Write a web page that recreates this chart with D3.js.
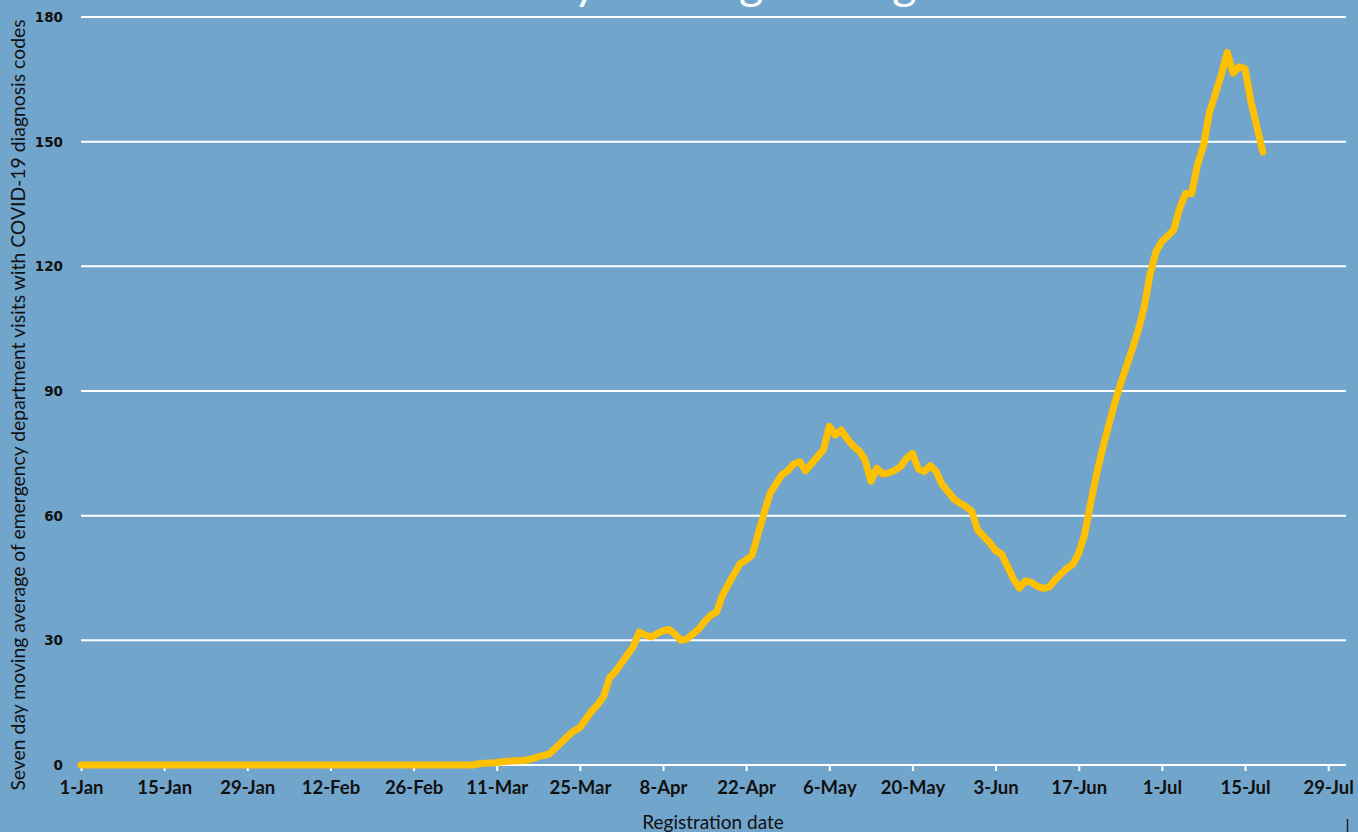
<!DOCTYPE html>
<html>
<head>
<meta charset="utf-8">
<script src="https://cdn.jsdelivr.net/npm/d3@7"></script>
<style>
  html, body { margin: 0; padding: 0; background: #72a5cc; overflow: hidden; }
  svg { display: block; }
</style>
</head>
<body>
<svg id="chart" width="1358" height="832"></svg>
<script>
'use strict';

// daily values, first entry is 1-Jan-2020
var startDate = '2020-01-01';
var endDate = '2020-08-01';

var values = [
  0, 0, 0, 0, 0, 0, 0, 0, 0, 0, 0, 0, 0, 0, 0, 0, 0, 0, 0, 0, 0, 0, 0, 0, 0, 0, 0, 0, 0, 0, 0, // Jan
  0, 0, 0, 0, 0, 0, 0, 0, 0, 0, 0, 0, 0, 0, 0, 0, 0, 0, 0, 0, 0, 0, 0, 0, 0, 0, 0, 0, 0,       // Feb
  0, 0, 0, 0, 0, 0, 0, 0.3, 0.4, 0.5, 0.6, 0.8, 0.9, 1.0, 1.0, 1.2, 1.5, 2.0, 2.3, 2.8, 4.2,   // Mar 1-21
  5.6, 7.0, 8.2, 9.0, 11.0, 13.0, 14.5, 16.5, 21.0, 22.5,                                        // Mar 22-31
  24.5, 26.5, 28.5, 32.0, 31.3, 30.8, 31.6, 32.3, 32.6, 31.5, 30.0, 30.3, 31.5, 32.7, 34.5,     // Apr 1-15
  36.0, 36.8, 40.8, 43.5, 46.0, 48.5, 49.3, 50.5, 55.5, 60.5, 65.3, 67.6, 69.8, 70.8, 72.4,     // Apr 16-30
  73.0, 70.8, 72.5, 74.2, 75.8, 81.5, 79.4, 80.6, 78.5, 76.8, 75.6, 73.5, 68.3, 71.4, 70.0,     // May 1-15
  70.3, 70.9, 71.8, 73.8, 75.0, 71.2, 70.6, 72.0, 70.6, 67.5, 65.8, 64.0, 63.0, 62.2, 61.0, 56.5, // May 16-31
  55.0, 53.5, 51.6, 50.8, 47.8, 44.8, 42.6, 44.3, 44.0, 43.0, 42.5, 42.8, 44.5, 46.0, 47.3,     // Jun 1-15
  48.3, 51.0, 55.5, 63.0, 70.0, 76.0, 81.5, 86.8, 91.5, 95.8, 100.0, 104.5, 110.0, 118.0, 123.5, // Jun 16-30
  126.0, 127.3, 128.8, 134.0, 137.5, 137.5, 144.5, 149.0, 157.0, 161.5, 166.0, 171.5,            // Jul 1-12
  166.5, 168.0, 167.6, 159.6, 153.6, 147.5                                                       // Jul 13-18
];

var yTicks = [0, 30, 60, 90, 120, 150, 180];
var xTickStep = 14; // days between date labels

var titleText = 'Seven Day Moving Average';
var yTitle = 'Seven day moving average of emergency department visits with COVID-19 diagnosis codes';
var xTitle = 'Registration date';

var lineColor = '#ffc000';
var gridColor = '#ffffff';

var svg = d3.select('#chart');

var parse = d3.timeParse('%Y-%m-%d');
var t0 = parse(startDate);

var data = values.map(function (v, i) {
  return { date: d3.timeDay.offset(t0, i), value: v };
});

var x = d3.scaleTime()
  .domain([t0, parse(endDate)])
  .range([81, 1346]);

var y = d3.scaleLinear()
  .domain([0, 180])
  .range([765, 17]);

// title, mostly above the top edge of the picture (as in the original)
svg.append('text')
  .attr('x', 660)
  .attr('y', -1)
  .attr('text-anchor', 'middle')
  .attr('fill', '#ffffff')
  .style('font-family', 'Lato, "Open Sans", sans-serif')
  .style('font-size', '47px')
  .text(titleText);

// gridlines
svg.append('g')
  .selectAll('line')
  .data(yTicks.filter(function (d) { return d > 0; }))
  .join('line')
  .attr('x1', x.range()[0])
  .attr('x2', x.range()[1])
  .attr('y1', function (d) { return y(d); })
  .attr('y2', function (d) { return y(d); })
  .attr('stroke', gridColor)
  .attr('stroke-width', 2);

// y labels
svg.append('g')
  .selectAll('text')
  .data(yTicks)
  .join('text')
  .attr('x', 63)
  .attr('y', function (d) { return y(d); })
  .attr('dy', '0.36em')
  .attr('text-anchor', 'end')
  .attr('fill', '#111111')
  .style('font-family', '"DejaVu Sans", Verdana, sans-serif')
  .style('font-weight', 'bold')
  .style('font-size', '13.5px')
  .text(function (d) { return d; });

// x axis
var xTicks = d3.range(0, 211, xTickStep).map(function (d) { return d3.timeDay.offset(t0, d); });

var xAxis = d3.axisBottom(x)
  .tickValues(xTicks)
  .tickSize(6)
  .tickPadding(10)
  .tickFormat(d3.timeFormat('%-d-%b'));

var gx = svg.append('g')
  .attr('transform', 'translate(0,' + y(0) + ')')
  .call(xAxis);

gx.select('.domain')
  .attr('stroke', gridColor)
  .attr('stroke-width', 2)
  .attr('d', 'M' + x.range()[0] + ',0H' + x.range()[1]);

gx.selectAll('.tick line')
  .attr('stroke', gridColor)
  .attr('stroke-width', 2);

gx.selectAll('.tick text')
  .attr('fill', '#111111')
  .style('font-family', 'Lato, "Open Sans", sans-serif')
  .style('font-weight', 'bold')
  .style('font-size', '18.5px');

// series
var line = d3.line()
  .x(function (d) { return x(d.date); })
  .y(function (d) { return y(d.value); });

svg.append('path')
  .datum(data)
  .attr('d', line)
  .attr('fill', 'none')
  .attr('stroke', lineColor)
  .attr('stroke-width', 7)
  .attr('stroke-linejoin', 'round')
  .attr('stroke-linecap', 'round');

// axis titles
var yt = svg.append('text')
  .attr('transform', 'translate(25,' + 405 + ') rotate(-90)')
  .attr('text-anchor', 'middle')
  .attr('fill', '#111111')
  .style('font-family', 'Lato, "Open Sans", sans-serif')
  .style('font-size', '17px')
  .text(yTitle);

// fit the rotated title to the height used in the original
var len = yt.node().getComputedTextLength();
yt.style('font-size', (17 * 772 / len).toFixed(2) + 'px');

svg.append('text')
  .attr('x', 713)
  .attr('y', 829)
  .attr('text-anchor', 'middle')
  .attr('fill', '#111111')
  .style('font-family', 'Lato, "Open Sans", sans-serif')
  .style('font-size', '19px')
  .text(xTitle);

// small mark at the lower right edge
svg.append('line')
  .attr('x1', 1347.5).attr('x2', 1347.5)
  .attr('y1', 819).attr('y2', 832)
  .attr('stroke', '#222222')
  .attr('stroke-width', 1.5);
</script>
</body>
</html>
